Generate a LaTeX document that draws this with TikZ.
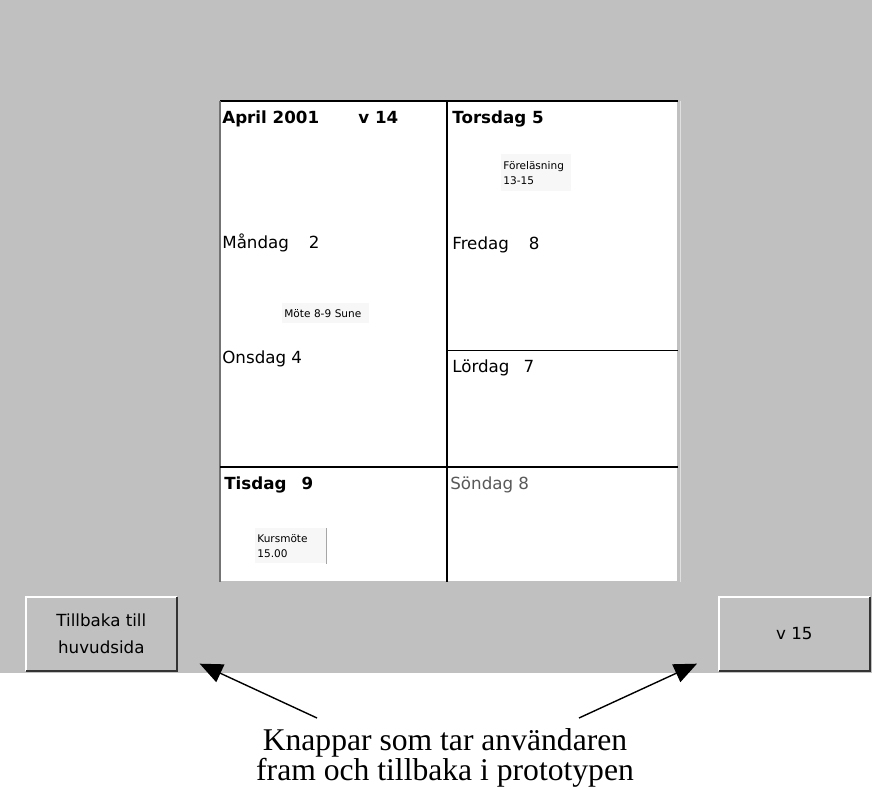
\documentclass[tikz,border=0pt]{standalone}
\usepackage{fontspec}
\setmainfont{Liberation Serif}
\newfontfamily\calfont{DejaVu Sans}
\usetikzlibrary{arrows.meta}
\usetikzlibrary{positioning}
\definecolor{skarm}{RGB}{192,192,192}
\definecolor{lapp}{RGB}{247,247,247}
\tikzset{
  cell/.style = {
    rectangle, fill = white, inner sep = 0pt, anchor = north west  }
}

\begin{document}
\begin{tikzpicture}[x=0.02cm, y=-0.02cm,
dag_style/.style={font=\calfont\fontsize{9.5}{11}\selectfont, anchor=base west, inner sep=0pt},
fet_style/.style={dag_style, font=\calfont\bfseries\fontsize{9.5}{11}\selectfont},
lapp_style/.style={fill=lapp, font=\calfont\fontsize{6}{8.5}\selectfont, align=left, inner xsep=0.04cm, inner ysep=0pt, anchor=north west},
knapp_style/.style={fill=skarm, minimum width=3cm, minimum height=1.46cm, inner sep=0pt, align=center, font=\calfont\fontsize{9.5}{15}\selectfont, anchor=north west},
pil_style/.style={line width=0.8pt, -{Triangle[length=13pt, width=11pt]}}]

\useasboundingbox (0,0) rectangle (872,790);
\fill[skarm] (0,0) rectangle (872,673);

% kalenderns rutor
\foreach \namn/\x/\y/\b/\h in {april/220/101/227/123, torsdag/447/101/230/123,
  mandag/220/224/227/243, fredag/447/224/230/126, lordag/447/350/230/117,
  tisdag/220/467/227/114, sondag/447/467/230/114}{
 \node[cell, minimum width=\b*0.02cm, minimum height=\h*0.02cm] (\namn) at (\x,\y){};
}

\draw[line width=1pt] (april.north west) -- (torsdag.north east);
\draw[line width=1pt] (torsdag.north west) -- (sondag.south west);
\draw[line width=0.8pt, black!55] (april.north west) -- (tisdag.south west);
\draw[line width=0.8pt] (fredag.south west) -- (fredag.south east);
\draw[line width=1.5pt] (tisdag.north west) -- (tisdag.north east);
\draw[line width=1pt] (sondag.north west) -- (sondag.north east);
\draw[line width=0.6pt, black!12] ([xshift=1.5pt]torsdag.north east) -- ([xshift=1.5pt]sondag.south east);

% dagarna
\node[fet_style] (t-april) at (222,124) {April 2001};
\node[fet_style] (t-v14) at (358,124) {v 14};
\node[fet_style] (t-torsdag) at (452,124) {Torsdag 5};
\node[dag_style] (t-mandag) at (222,249) {Måndag\hspace{0.4cm}2};
\node[dag_style] (t-onsdag) at (222,364) {Onsdag 4};
\node[dag_style] (t-fredag) at (452,250) {Fredag\hspace{0.4cm}8};
\node[dag_style] (t-lordag) at (452,373) {Lördag\hspace{0.28cm}7};
\node[fet_style] (t-tisdag) at (224,489) {Tisdag\hspace{0.3cm}9};
\node[dag_style, text=black!65] (t-sondag) at (450,489) {Söndag 8};

% lappar
\node[lapp_style, text width=1.32cm, minimum height=0.74cm] (l-torsdag) at (501,154) {Föreläsning\\13-15};
\node[lapp_style, text width=1.66cm, minimum height=0.4cm] (l-mandag) at (282,303) {Möte 8-9 Sune};
\node[lapp_style, text width=1.34cm, minimum height=0.7cm] (l-tisdag) at (255,528) {Kursmöte\\15.00};
\draw[black!35] (l-tisdag.north east) -- (l-tisdag.south east);

% knappar
\node[knapp_style] (tillbaka) at (26,597) {Tillbaka till\\huvudsida};
\node[knapp_style] (v15) at (719,597) {v 15};
\foreach \k in {tillbaka,v15}{
 \draw[white, line width=1pt] (\k.south west) -- (\k.north west) -- (\k.north east);
 \draw[black!80, line width=1pt] (\k.north east) -- (\k.south east) -- (\k.south west);
}

\node[font=\fontsize{18}{16}\selectfont, align=center] (forklaring) at (445,758) {Knappar som tar användaren\\fram och tillbaka i prototypen};
\coordinate (vstart) at (317,718);
\coordinate (hstart) at (579,718);
\draw[pil_style] (vstart) -- ([xshift=0.46cm, yshift=0.14cm]tillbaka.south east);
\draw[pil_style] (hstart) -- ([xshift=-0.44cm, yshift=0.14cm]v15.south west);
\end{tikzpicture}
\end{document}
